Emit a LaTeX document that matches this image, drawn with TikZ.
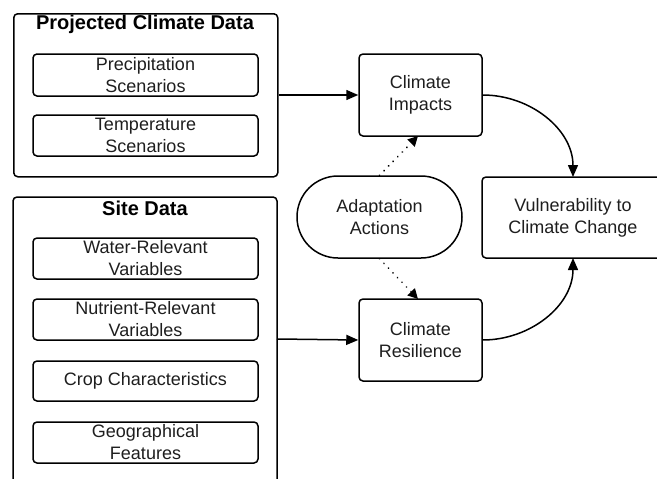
\documentclass[tikz,border=0pt]{standalone}
\usepackage{fontspec}
\setmainfont{Liberation Sans}
\usetikzlibrary{arrows.meta}
\definecolor{txt}{HTML}{1E1E1E}
\tikzset{
  box/.style={draw=black, line width=1.5pt, rounded corners=4pt},
  inner/.style={draw=black, line width=1.5pt, rounded corners=4pt, inner sep=0pt, align=center,
     font=\fontsize{18}{22}\selectfont, text=txt},
  ttl/.style={font=\fontsize{20}{24}\selectfont\bfseries, text=black},
  lbl/.style={font=\fontsize{18}{22.5}\selectfont, text=txt, align=center},
  arr/.style={line width=1.5pt, -{Triangle[length=12pt,width=10pt]}},
  dotarr/.style={line width=2pt, dash pattern=on 0.01pt off 6.5pt, line cap=round, -{Triangle[length=10pt,width=10pt]}},
}
\begin{document}
\begin{tikzpicture}[x=1pt,y=-1pt]
\useasboundingbox (0,0) rectangle (657,479);
% Projected Climate Data
\node[box, minimum width=264pt, minimum height=163pt, anchor=north west] (pcd) at (13,13) {};
\node[ttl] (pcdt) at (145,24) {Projected Climate Data};
\node[inner, minimum width=225pt, minimum height=42pt] (prec) at (145.5,75) {Precipitation\\Scenarios};
\node[inner, minimum width=225pt, minimum height=41pt] (temp) at (145.5,135.5) {Temperature\\Scenarios};
% Site Data (open at bottom)
\coordinate (sdbl) at (13,482);
\coordinate (sdbr) at (277,482);
\draw[line width=1.5pt, rounded corners=4pt] (sdbl) |- (145,197) -| (sdbr);
\coordinate (sdr) at (277,339);
\node[ttl] (sdt) at (145,208) {Site Data};
\node[inner, minimum width=225pt, minimum height=41pt] (water) at (145.5,258.5) {Water-Relevant\\Variables};
\node[inner, minimum width=225pt, minimum height=41pt] (nutr) at (145.5,319.5) {Nutrient-Relevant\\Variables};
\node[inner, minimum width=225pt, minimum height=40pt] (crop) at (145.5,381) {Crop Characteristics};
\node[inner, minimum width=225pt, minimum height=41pt] (geo) at (145.5,442.5) {Geographical\\Features};
% middle column
\node[box, minimum width=123pt, minimum height=82pt, lbl] (imp) at (420.5,95) {Climate\\Impacts};
\node[box, minimum width=123pt, minimum height=82pt, lbl] (res) at (420.5,340) {Climate\\Resilience};
\node[draw=black, line width=1.5pt, rounded corners=41pt, minimum width=165pt, minimum height=82pt, lbl] (ada) at (379.5,217) {Adaptation\\Actions};
% Vulnerability (open at right)
\coordinate (vtr) at (660,177);
\coordinate (vbr) at (660,258);
\draw[line width=1.5pt, rounded corners=4pt] (vtr) -| (482,217) |- (vbr);
\coordinate (vtop) at (573,177);
\coordinate (vbot) at (573,258);
\node[lbl] (vul) at (573,218) {Vulnerability to\\Climate Change};
% connectors
\draw[arr] (pcd.east |- imp.west) -- (imp.west);
\draw[arr] (sdr) -- (res.west);
\draw[arr] (imp.east) to[out=0, in=90] (vtop);
\draw[arr] (res.east) to[out=0, in=-90] (vbot);
\draw[dotarr] (ada.north) -- (418,136);
\draw[dotarr] (ada.south) -- (418,299);
\end{tikzpicture}
\end{document}
